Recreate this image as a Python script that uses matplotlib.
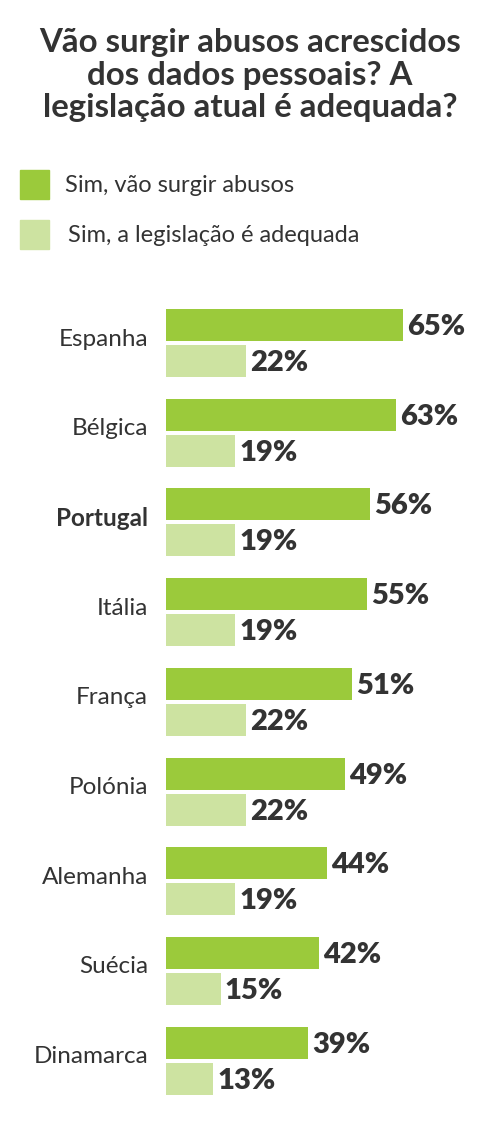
import matplotlib.pyplot as plt
from matplotlib.patches import Rectangle
import numpy as np

# dados
countries = ['Espanha', 'Bélgica', 'Portugal', 'Itália', 'França',
             'Polónia', 'Alemanha', 'Suécia', 'Dinamarca']
abusos = [65, 63, 56, 55, 51, 49, 44, 42, 39]
legislacao = [22, 19, 19, 19, 22, 22, 19, 15, 13]
highlight = 'Portugal'

title_lines = ['Vão surgir abusos acrescidos',
               'dos dados pessoais? A',
               'legislação atual é adequada?']
legend_labels = ['Sim, vão surgir abusos', 'Sim, a legislação é adequada']

DARK = '#9bca3b'
LIGHT = '#cde3a1'
TXT = '#333333'

plt.rcParams['font.family'] = ['Lato', 'DejaVu Sans']

W, H = 500, 1134
fig = plt.figure(figsize=(W / 100, H / 100), dpi=100)
fig.patch.set_facecolor('white')

# titulo
for k, line in enumerate(title_lines):
    fig.text(0.5, 1 - (52 + 32.5 * k) / H, line, ha='center', va='baseline',
             fontsize=23.8, fontweight='bold', color=TXT)

# legenda
for k, (lab, col) in enumerate(zip(legend_labels, [DARK, LIGHT])):
    top = 170 + 50 * k
    fig.patches.append(Rectangle((20 / W, 1 - (top + 29) / H), 29 / W, 29 / H,
                                 transform=fig.transFigure, color=col))
    fig.text((65 + 3 * k) / W, 1 - (top + 16) / H, lab, ha='left', va='center',
             fontsize=17, color=TXT)

# barras
left_px, pitch = 166, 89.7
top_px = 343 - pitch / 2
bottom_px = top_px + pitch * len(countries)
ax = fig.add_axes([left_px / W, 1 - bottom_px / H, 1 - left_px / W, (bottom_px - top_px) / H])
y = np.arange(len(countries))
h = 32 / pitch
off = 18 / pitch
ax.barh(y - off, abusos, height=h, color=DARK)
ax.barh(y + off, legislacao, height=h, color=LIGHT)
ax.set_xlim(0, (W - left_px) / 3.65)
ax.set_ylim(len(countries) - 0.5, -0.5)
ax.axis('off')

pt = 72 / 100
for i, c in enumerate(countries):
    ax.annotate(c, xy=(0, i), xytext=(-18 * pt, 4 * pt), textcoords='offset points',
                ha='right', va='center', fontsize=17.5, color=TXT,
                fontweight='bold' if c == highlight else 'normal')
    for v, dy in [(abusos[i], -off), (legislacao[i], off)]:
        ax.annotate(f'{v}%', xy=(v, i + dy), xytext=(4 * pt, -2 * pt), textcoords='offset points',
                    ha='left', va='center', fontsize=21, fontweight='heavy', color=TXT)

fig.savefig('out.png', dpi=100)
